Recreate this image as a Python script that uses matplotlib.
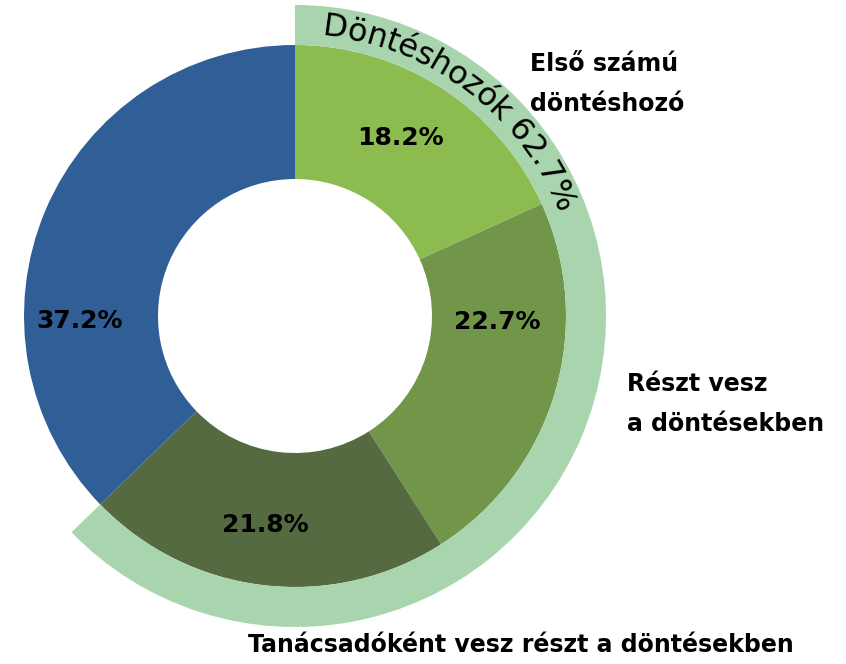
import numpy as np
import matplotlib.pyplot as plt
from matplotlib.font_manager import FontProperties

shares = [18.2, 22.7, 21.8, 37.2]
share_labels = ["18.2%", "22.7%", "21.8%", "37.2%"]
colors = ["#8cbb50", "#71964a", "#566a41", "#2f5f96"]
decision_total = 62.7
band_text = "Döntéshozók 62.7%"
outer_labels = ["Első számú\ndöntéshozó", "Részt vesz\na döntésekben",
                "Tanácsadóként vesz részt a döntésekben"]

W, H = 846, 664
fig = plt.figure(figsize=(W / 100, H / 100), dpi=100)
ax = fig.add_axes([0, 0, 1, 1])

cx, cy = 295, H - 316
r_out, r_in = 271, 137
band_w = 40

ax.pie(shares, colors=colors, radius=r_out, center=(cx, cy), startangle=90,
       counterclock=False, wedgeprops=dict(width=r_out - r_in, linewidth=0))
ax.pie([decision_total, sum(shares) - decision_total], colors=["#a9d5ae", "none"],
       radius=r_out + band_w, center=(cx, cy), startangle=90,
       counterclock=False, wedgeprops=dict(width=band_w, linewidth=0))

ax.set_xlim(0, W)
ax.set_ylim(0, H)
ax.set_aspect("equal")
ax.axis("off")

# percentage labels (placed like in the original)
pct_pos = [(400, 138), (497, 322), (265, 525), (80, 321)]
for (x, y), t in zip(pct_pos, share_labels):
    ax.text(x, H - y, t, ha="center", va="center", fontsize=18,
            fontweight="bold", color="black")

ax.text(530, H - 84, outer_labels[0], ha="left", va="center", fontsize=17,
        fontweight="bold", linespacing=1.8)
ax.text(627, H - 404, outer_labels[1], ha="left", va="center", fontsize=17,
        fontweight="bold", linespacing=1.8)
ax.text(248, H - 645, outer_labels[2], ha="left", va="center", fontsize=17,
        fontweight="bold")

# curved text along the outer band
fig.canvas.draw()
renderer = fig.canvas.get_renderer()
fp = FontProperties(family="DejaVu Sans", size=23)


def width(s):
    if not s:
        return 0.0
    w, h, d = renderer.get_text_width_height_descent(s.replace(" ", "\u00a0"), fp, ismath=False)
    return w


R = 290
theta0 = np.deg2rad(84.5)
for i, ch in enumerate(band_text):
    arc = width(band_text[:i]) + width(ch) / 2
    th = theta0 - arc / R
    x = cx + R * np.cos(th)
    y = cy + R * np.sin(th)
    ax.text(x, y, ch, fontproperties=fp, rotation=np.rad2deg(th) - 90,
            ha="center", va="center", rotation_mode="anchor", color="black")

fig.savefig("out.png", dpi=100)
